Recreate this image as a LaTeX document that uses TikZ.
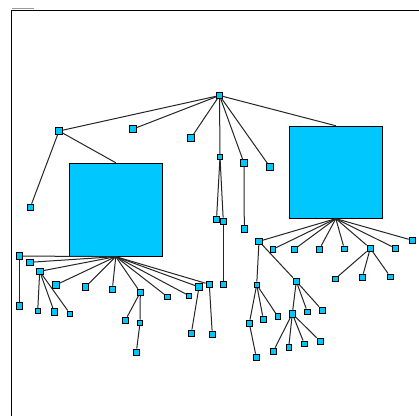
\documentclass[tikz,border=0pt]{standalone}
\usepackage{tikz}
\definecolor{leafblue}{RGB}{0,200,255}
\begin{document}
\begin{tikzpicture}[x=1pt,y=-1pt,
  leaf/.style={draw=black,fill=leafblue,line width=0.8pt,inner sep=0pt,minimum size=6.5pt},
  small/.style={leaf,minimum size=5.5pt},
  bigbox/.style={draw=black,fill=leafblue,line width=0.9pt,inner sep=0pt,minimum width=93pt,minimum height=93pt},
  link/.style={draw=black!85,line width=1pt},
  frame/.style={draw=black,line width=1pt}]
\useasboundingbox (0,0) rectangle (419,416);
\fill[white] (0,0) rectangle (419,416);

% frame
\coordinate (ftop) at (419,10);
\coordinate (fcorner) at (11,10);
\coordinate (fbottom) at (11,416);
\draw[frame] (ftop) -- (fcorner) -- (fbottom);
\coordinate (capL) at (12,8.6);
\coordinate (capR) at (34,8.6);
\draw[black!40,line width=0.9pt,dash pattern=on 1.5pt off 0.5pt] (capL) -- (capR);

% nodes
\node[small] (root) at (219.5,95.5) {};
\node[leaf] (a1) at (59,131) {};
\node[leaf] (a2) at (133,129) {};
\node[leaf] (a3) at (191,138) {};
\node[small] (a4) at (220,157) {};
\node[leaf] (a5) at (244,163) {};
\node[leaf] (a6) at (270,167) {};
\node[bigbox] (L) at (115.8,209.7) {};
\node[bigbox,minimum height=92pt] (R) at (335.8,172.2) {};

\node[leaf] (b1) at (30.3,207.3) {};
\node[leaf] (c1) at (216.5,219.3) {};
\node[leaf] (c2) at (223.3,221.3) {};
\node[leaf] (c3) at (223.3,284.3) {};
\node[leaf] (d1) at (244.3,229) {};

% children of the left box
\node[leaf] (l1) at (19.3,256) {};
\node[leaf] (l2) at (29.7,262.3) {};
\node[leaf] (l3) at (39.7,271.3) {};
\node[leaf] (l4) at (55.7,285) {};
\node[leaf] (l5) at (85.3,287) {};
\node[leaf] (l6) at (112.3,289.3) {};
\node[leaf] (l7) at (140.3,292.3) {};
\node[small] (l8) at (167.3,296.7) {};
\node[small] (l9) at (189,295.7) {};
\node[leaf] (l10) at (199,287) {};
\node[leaf] (l11) at (209.3,284.3) {};

\node[leaf] (m1) at (19.3,306) {};
\node[small] (m2) at (37.7,311) {};
\node[leaf] (m3) at (54.3,312) {};
\node[small] (m4) at (70,313.7) {};
\node[leaf] (m5) at (125.3,320.3) {};
\node[small] (m6) at (140,322.7) {};
\node[leaf] (m7) at (136.3,352.3) {};
\node[leaf] (m8) at (191.3,333.3) {};
\node[leaf] (m9) at (212.3,334.3) {};

% children of the right box
\node[leaf] (r1) at (259,241.3) {};
\node[small] (r2) at (272.7,249.3) {};
\node[leaf] (r3) at (294.3,249.3) {};
\node[leaf] (r4) at (319.3,249.3) {};
\node[small] (r5) at (344.3,248.7) {};
\node[leaf] (r6) at (370.3,248.3) {};
\node[leaf] (r7) at (395.3,248.3) {};
\node[leaf] (r8) at (412.3,240.3) {};

\node[small] (s1) at (335.3,278.7) {};
\node[leaf] (s2) at (362.3,277.3) {};
\node[small] (s3) at (390.3,276.7) {};

\node[small] (t1) at (256.7,284.7) {};
\node[leaf] (t2) at (296.3,281.3) {};
\node[leaf] (u1) at (249.3,323.3) {};
\node[leaf] (u2) at (263.3,319.3) {};
\node[small] (u3) at (277.7,316.3) {};
\node[leaf] (u4) at (256.3,357.3) {};
\node[leaf] (v1) at (292.3,313.7) {};
\node[small] (v2) at (307.3,311.7) {};
\node[leaf] (v3) at (322.3,310.3) {};
\node[leaf] (w1) at (273.3,351.3) {};
\node[small] (w2) at (288.7,347.3) {};
\node[small] (w3) at (304.3,343.7) {};
\node[leaf] (w4) at (320.3,341.3) {};

% connectors
\foreach \c in {a1,a2,a3,a4,a5,a6} \draw[link] (root) -- (\c);
\draw[link] (root) -- (R.north);
\draw[link] (a1) -- (L.north);
\draw[link] (a1) -- (b1);
\draw[link] (a4) -- (c1);
\draw[link] (a4) -- (c2);
\draw[link] (c2) -- (c3);
\draw[link] (a5) -- (d1);
\foreach \c in {l1,l2,l3,l4,l5,l6,l7,l8,l9,l10,l11} \draw[link] (L.south) -- (\c);
\draw[link] (l1) -- (m1);
\foreach \c in {m2,m3,m4} \draw[link] (l3) -- (\c);
\draw[link] (l7) -- (m5);
\draw[link] (l7) -- (m6);
\draw[link] (m6) -- (m7);
\draw[link] (l10) -- (m8);
\draw[link] (l11) -- (m9);
\foreach \c in {r1,r2,r3,r4,r5,r6,r7,r8} \draw[link] (R.south) -- (\c);
\foreach \c in {s1,s2,s3} \draw[link] (r6) -- (\c);
\draw[link] (r1) -- (t1);
\draw[link] (r1) -- (t2);
\foreach \c in {u1,u2,u3} \draw[link] (t1) -- (\c);
\draw[link] (u1) -- (u4);
\foreach \c in {v1,v2,v3} \draw[link] (t2) -- (\c);
\foreach \c in {w1,w2,w3,w4} \draw[link] (v1) -- (\c);
\end{tikzpicture}
\end{document}
